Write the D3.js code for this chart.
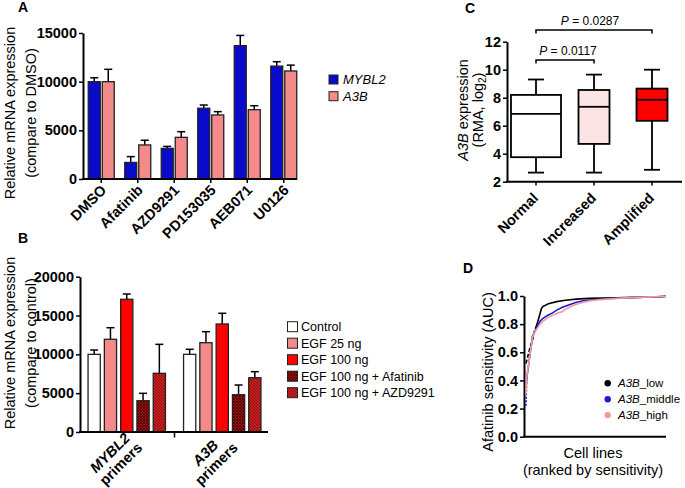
<!DOCTYPE html>
<html><head><meta charset="utf-8">
<script src="https://cdn.jsdelivr.net/npm/d3@7"></script>
<style>body{margin:0;background:#fff}svg{display:block}</style>
</head><body><svg id="c" width="685" height="488"></svg>
<script>
// ---------- Panel A data ----------
const drugs = ["DMSO","Afatinib","AZD9291","PD153035","AEB071","U0126"];
const seriesA = ["MYBL2","A3B"];
const mybl2Mean = [10000,1700,3150,7270,13700,11600];
const mybl2Err  = [400,600,200,330,1050,450];
const a3bMean   = [10000,3500,4280,6580,7120,11100];
const a3bErr    = [1270,480,580,340,410,600];
const ticksA = [0,5000,10000,15000];

// ---------- Panel B data ----------
const primerGroups = ["MYBL2","A3B"];
const treatments = ["Control","EGF 25 ng","EGF 100 ng","EGF 100 ng + Afatinib","EGF 100 ng + AZD9291"];
const mybl2Primers    = [10000,11940,17090,4030,7560];
const mybl2PrimersErr = [560,1490,680,950,3730];
const a3bPrimers      = [10000,11500,13910,4800,6990];
const a3bPrimersErr   = [650,1420,1380,1250,780];
const ticksB = [0,5000,10000,15000,20000];

// ---------- Panel C data ----------
const cnvGroups = ["Normal","Increased","Amplified"];
const whiskerLow  = [2.65,2.65,2.85];
const quartile1   = [3.75,4.7,6.35];
const medians     = [6.85,7.35,7.85];
const quartile3   = [8.2,8.55,8.65];
const whiskerHigh = [9.3,9.65,10.0];
const ticksC = [2,4,6,8,10,12];
const pValues = ["0.0117","0.0287"];

// ---------- Panel D data ----------
const rankLow = [0,1,2.5,4,5,6,7.5,8.5,11,12,16,22,28,36,45,55,65,75,85,95,100];
const aucLow  = [0.52,0.56,0.62,0.67,0.7,0.75,0.79,0.82,0.91,0.925,0.945,0.96,0.97,0.978,0.983,0.986,0.988,0.99,0.992,0.995,0.998];
const rankMid = [0,0.5,1,2,3,4,4.5,6,8,10,12,15,19,22,26,30,36,42,50,60,70,80,90,100];
const aucMid  = [0.22,0.4,0.45,0.52,0.6,0.66,0.71,0.74,0.78,0.82,0.84,0.86,0.88,0.9,0.92,0.935,0.955,0.968,0.975,0.982,0.986,0.99,0.993,0.997];
const rankHigh = [0,0.5,1,2,3,4,4.5,6,8,10,12,16,22,26,29,33,37,43,48,58,68,78,90,100];
const aucHigh  = [0.3,0.42,0.46,0.52,0.6,0.66,0.7,0.74,0.77,0.8,0.82,0.85,0.875,0.89,0.91,0.93,0.945,0.96,0.97,0.978,0.985,0.99,0.994,0.998];
const ticksD = [0,0.2,0.4,0.6,0.8,1.0];

// ---------- drawing ----------
const FONT = '"Liberation Sans", Arial, Helvetica, sans-serif';
const svg = d3.select("#c").attr("font-family", FONT);
svg.append("rect").attr("width",685).attr("height",488).attr("fill","#fff");

const defs = svg.append("defs");
const pA = defs.append("pattern").attr("id","hatchX").attr("patternUnits","userSpaceOnUse").attr("width",3).attr("height",3);
pA.append("rect").attr("width",3).attr("height",3).attr("fill","#9a1414");
pA.append("path").attr("d","M0,0L3,3M3,0L0,3").attr("stroke","#4a0000").attr("stroke-width",0.8);
const pB = defs.append("pattern").attr("id","hatchD").attr("patternUnits","userSpaceOnUse").attr("width",3).attr("height",3);
pB.append("rect").attr("width",3).attr("height",3).attr("fill","#cc2020");
pB.append("path").attr("d","M-1,-1L4,4M-1,2L1,4M2,-1L4,1").attr("stroke","#7a0a0a").attr("stroke-width",0.9);

const blue = "#0a0acc", pink = "#f48a8a", red = "#ff0000";
const treatFill = ["#ffffff", pink, red, "url(#hatchX)", "url(#hatchD)"];

function styleAxis(g, fs){
  g.select(".domain").attr("stroke","#000").attr("stroke-width",2);
  g.selectAll(".tick line").attr("stroke","#000").attr("stroke-width",1.5);
  g.selectAll(".tick text").attr("font-family",FONT).attr("font-size",fs||14.5)
    .attr("font-weight","bold").attr("fill","#000");
}
function hLine(x1,x2,y){ svg.append("line").attr("x1",x1).attr("x2",x2).attr("y1",y).attr("y2",y).attr("stroke","#000").attr("stroke-width",2); }
function vTitle(lines, x0, yc, dxLine){
  lines.forEach((ln,i)=>{
    const t = svg.append("text").attr("transform",`translate(${x0+i*dxLine},${yc}) rotate(-90)`)
      .attr("text-anchor","middle").attr("font-size",14.5).attr("fill","#000");
    ln.forEach(seg=>{
      const s = t.append("tspan").text(seg.t);
      if(seg.i) s.attr("font-style","italic");
      if(seg.sub) s.attr("font-size",10).attr("dy",3);
      if(seg.after) s.attr("dy",-3);
    });
  });
}
function panelLabel(txt,x,y){ svg.append("text").attr("x",x).attr("y",y).attr("font-weight","bold").attr("font-size",14).text(txt); }
function errBar(x, yTop, yErr){
  svg.append("line").attr("x1",x).attr("x2",x).attr("y1",yTop).attr("y2",yErr).attr("stroke","#000").attr("stroke-width",1.5);
  svg.append("line").attr("x1",x-4).attr("x2",x+4).attr("y1",yErr).attr("y2",yErr).attr("stroke","#000").attr("stroke-width",1.5);
}

// ===== Panel A =====
panelLabel("A",18,12);
const xA = d3.scaleBand().domain(drugs).range([83,302]);
const xAin = d3.scaleBand().domain(seriesA).range([-13,13]).paddingInner(1/7);
const yA = d3.scaleLinear().domain([0,15000]).range([179,33]);
const aVals = [mybl2Mean, a3bMean], aErrs = [mybl2Err, a3bErr], aCols = [blue, pink];
drugs.forEach((d,i)=>{
  const cx = xA(d)+xA.bandwidth()/2;
  seriesA.forEach((s,j)=>{
    const x = cx + xAin(s);
    errBar(x+xAin.bandwidth()/2, yA(aVals[j][i]), yA(aVals[j][i]+aErrs[j][i]));
    svg.append("rect").attr("x",x).attr("y",yA(aVals[j][i])).attr("width",xAin.bandwidth())
      .attr("height",yA(0)-yA(aVals[j][i])).attr("fill",aCols[j]).attr("stroke","#222").attr("stroke-width",1.3);
  });
  svg.append("line").attr("x1",cx).attr("x2",cx).attr("y1",179).attr("y2",183).attr("stroke","#000").attr("stroke-width",1.5);
  svg.append("text").attr("transform",`translate(${cx+6},191) rotate(-45)`).attr("text-anchor","end")
    .attr("font-size",14.5).attr("font-weight","bold").text(d);
});
svg.append("g").attr("transform","translate(83,0)")
  .call(d3.axisLeft(yA).tickValues(ticksA).tickSize(4).tickPadding(2).tickSizeOuter(0).tickFormat(d3.format("d")))
  .call(g=>styleAxis(g));
hLine(82,297,179);
vTitle([[{t:"Relative mRNA expression"}],[{t:"(compare to DMSO)"}]], 15, 113, 21);
seriesA.forEach((s,j)=>{
  const y = 75 + j*16.7;
  svg.append("rect").attr("x",329).attr("y",y).attr("width",9).attr("height",9).attr("fill",aCols[j]).attr("stroke","#222").attr("stroke-width",1);
  svg.append("text").attr("x",343).attr("y",y+9).attr("font-size",13).attr("font-style","italic").text(s);
});

// ===== Panel B =====
panelLabel("B",18,243);
const xB = d3.scaleBand().domain(primerGroups).range([79,270]);
const xBin = d3.scaleBand().domain(treatments).range([-38.7,38.7]).paddingInner(0.25);
const yB = d3.scaleLinear().domain([0,20000]).range([432,276.7]);
const bVals = [mybl2Primers, a3bPrimers], bErrs = [mybl2PrimersErr, a3bPrimersErr];
primerGroups.forEach((g,gi)=>{
  const cx = xB(g)+xB.bandwidth()/2;
  treatments.forEach((t,ti)=>{
    const x = cx + xBin(t), v = bVals[gi][ti];
    errBar(x+xBin.bandwidth()/2, yB(v), yB(v+bErrs[gi][ti]));
    svg.append("rect").attr("x",x).attr("y",yB(v)).attr("width",xBin.bandwidth()).attr("height",yB(0)-yB(v))
      .attr("fill",treatFill[ti]).attr("stroke","#222").attr("stroke-width",1.3);
  });
  const lab = svg.append("g").attr("transform",`translate(${cx+5},438) rotate(-45)`);
  lab.append("text").attr("x",-26).attr("y",0).attr("text-anchor","middle").attr("font-size",14.5)
    .attr("font-weight","bold").attr("font-style","italic").text(g);
  lab.append("text").attr("x",-26).attr("y",15.5).attr("text-anchor","middle").attr("font-size",14.5)
    .attr("font-weight","bold").text("primers");
});
svg.append("g").attr("transform","translate(80,0)")
  .call(d3.axisLeft(yB).tickValues(ticksB).tickSize(4).tickPadding(2).tickSizeOuter(0).tickFormat(d3.format("d")))
  .call(g=>styleAxis(g));
hLine(79,268,432);
{ const mid = (xB(primerGroups[0])+xB.bandwidth()+xB(primerGroups[1]))/2;
  svg.append("line").attr("x1",mid).attr("x2",mid).attr("y1",432).attr("y2",437.5).attr("stroke","#000").attr("stroke-width",1.5); }
vTitle([[{t:"Relative mRNA expression"}],[{t:"(compare to control)"}]], 15, 343, 21);
treatments.forEach((t,ti)=>{
  const y = 321.7 + ti*16.5;
  svg.append("rect").attr("x",287.5).attr("y",y).attr("width",10).attr("height",10).attr("fill",treatFill[ti]).attr("stroke","#222").attr("stroke-width",1);
  svg.append("text").attr("x",301).attr("y",y+9.5).attr("font-size",12.5).text(t);
});

// ===== Panel C =====
panelLabel("C",465,13);
const xC = d3.scaleBand().domain(cnvGroups).range([507,681]);
const yC = d3.scaleLinear().domain([2,12]).range([181.7,41.7]);
const boxFill = ["#ffffff","#fde4e4", red];
cnvGroups.forEach((c,i)=>{
  const cx = xC(c)+xC.bandwidth()/2;
  const bw = i===0 ? 50 : 31;
  const sw = 1.8;
  svg.append("line").attr("x1",cx).attr("x2",cx).attr("y1",yC(whiskerLow[i])).attr("y2",yC(whiskerHigh[i])).attr("stroke","#000").attr("stroke-width",sw);
  [whiskerLow[i], whiskerHigh[i]].forEach(v=>svg.append("line").attr("x1",cx-8).attr("x2",cx+8).attr("y1",yC(v)).attr("y2",yC(v)).attr("stroke","#000").attr("stroke-width",sw));
  svg.append("rect").attr("x",cx-bw/2).attr("y",yC(quartile3[i])).attr("width",bw).attr("height",yC(quartile1[i])-yC(quartile3[i]))
    .attr("fill",boxFill[i]).attr("stroke","#000").attr("stroke-width",sw);
  svg.append("line").attr("x1",cx-bw/2).attr("x2",cx+bw/2).attr("y1",yC(medians[i])).attr("y2",yC(medians[i])).attr("stroke","#000").attr("stroke-width",sw);
  svg.append("line").attr("x1",cx).attr("x2",cx).attr("y1",181.7).attr("y2",185.5).attr("stroke","#000").attr("stroke-width",1.5);
  svg.append("text").attr("transform",`translate(${cx+3},199) rotate(-45)`).attr("text-anchor","end")
    .attr("font-size",14.5).attr("font-weight","bold").text(c);
});
svg.append("g").attr("transform","translate(507,0)")
  .call(d3.axisLeft(yC).tickValues(ticksC).tickSize(4).tickPadding(2).tickSizeOuter(0))
  .call(g=>styleAxis(g));
hLine(506,682,181.7);
[[0,1,60],[0,2,30]].forEach(([a,b,y],k)=>{
  const x1 = xC(cnvGroups[a])+xC.bandwidth()/2, x2 = xC(cnvGroups[b])+xC.bandwidth()/2;
  svg.append("path").attr("d",`M${x1},${y+3.5}V${y}H${x2}V${y+3.5}`).attr("fill","none").attr("stroke","#000").attr("stroke-width",1.5);
  const t = svg.append("text").attr("x",(x1+x2)/2+ (k===0?3:-4)).attr("y",y-5).attr("text-anchor","middle").attr("font-size",12);
  t.append("tspan").attr("font-style","italic").text("P");
  t.append("tspan").text(" = " + pValues[k]);
});
vTitle([[{t:"A3B",i:true},{t:" expression"}],[{t:"(RMA, log"},{t:"2",sub:true},{t:")",after:true}]], 468, 110, 14.5);

// ===== Panel D =====
panelLabel("D",463,273);
const xD = d3.scaleLinear().domain([0,100]).range([526,666]);
const yD = d3.scaleLinear().domain([0,1]).range([436.7,296]);
svg.append("g").attr("transform","translate(524,0)")
  .call(d3.axisLeft(yD).tickValues(ticksD).tickSize(4).tickPadding(2).tickSizeOuter(0).tickFormat(d3.format(".1f")))
  .call(g=>styleAxis(g));
hLine(523,666,436.7);
const dSeries = [
  {name:"low", r:rankLow, v:aucLow, col:"#000000"},
  {name:"middle", r:rankMid, v:aucMid, col:"#1a1ad0"},
  {name:"high", r:rankHigh, v:aucHigh, col:"#f49a9a"}
];
const line = d3.line().x(d=>xD(d[0])).y(d=>yD(d[1]));
dSeries.forEach((s,si)=>{
  const pts = s.r.map((r,i)=>[r,s.v[i]]);
  svg.append("path").attr("d",line(pts)).attr("fill","none").attr("stroke",s.col).attr("stroke-width",1.6)
    .attr("stroke-dasharray", si===0 ? "4,2,4,2,4,2,4,2,4,2,4,2,200" : (si===1 ? "2,1.5,2,1.5,2,1.5,2,1.5,2,1.5,2,1.5,200" : null));
});
dSeries.forEach((s,i)=>{
  const y = 383.3 + i*15.9;
  svg.append("circle").attr("cx",607.7).attr("cy",y).attr("r",3.2).attr("fill",s.col);
  const t = svg.append("text").attr("x",618).attr("y",y+4).attr("font-size",11.5);
  t.append("tspan").attr("font-style","italic").text("A3B");
  t.append("tspan").text("_" + s.name);
});
vTitle([[{t:"Afatinib sensitivity (AUC)"}]], 493, 372, 0);
svg.append("text").attr("x",593).attr("y",458).attr("text-anchor","middle").attr("font-size",14.5).text("Cell lines");
svg.append("text").attr("x",593).attr("y",475).attr("text-anchor","middle").attr("font-size",14.5).text("(ranked by sensitivity)");
</script></body></html>
